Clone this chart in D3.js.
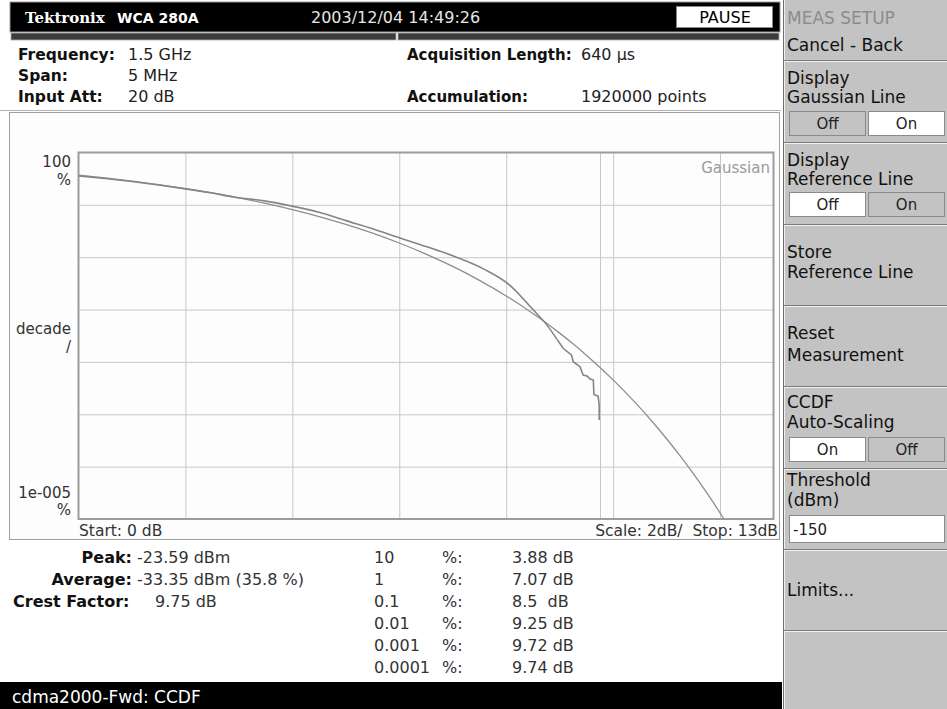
<!DOCTYPE html>
<html><head><meta charset="utf-8">
<script src="https://cdn.jsdelivr.net/npm/d3@7"></script>
<style>
html,body{margin:0;padding:0;background:#fff;}
svg{display:block;font-family:"DejaVu Sans",sans-serif;}
text{white-space:pre;}
</style></head><body>
<svg id="c" width="947" height="709"></svg>
<script>
// ---------- data ----------
const gaussDb  = [0, 0.5, 1, 1.5, 2, 2.5, 3, 3.5, 4, 4.5, 5, 5.5, 6, 6.5, 7, 7.5, 8, 8.5, 8.75, 9, 9.25, 9.5, 9.75, 10, 10.25, 10.5, 10.75, 11, 11.25, 11.5, 11.75, 12, 12.07];
const gaussPct = [36.79, 32.56, 28.40, 24.35, 20.50, 16.89, 13.60, 10.66, 8.11, 5.97, 4.23, 2.878, 1.867, 1.148, 0.666, 0.361, 0.1819, 0.0842, 0.0554, 0.0355, 0.0222, 0.01347, 0.00794, 0.00454, 0.00251, 0.00134, 0.000689, 0.000341, 0.000162, 0.0000734, 0.0000318, 0.0000131, 0.0000101];
const measDb  = [0, 0.5, 1, 1.5, 2, 2.5, 2.9, 3.5, 3.88, 4.5, 5, 5.5, 6, 6.5, 7.07, 7.6, 8.07, 8.5, 8.76, 8.95, 9.07, 9.22, 9.255, 9.38, 9.44, 9.51, 9.57, 9.63, 9.64, 9.72, 9.74, 9.74];
const measPct = [35.8, 31.9, 27.9, 24.0, 20.2, 16.8, 14.1, 11.8, 10.0, 7.2, 5.0, 3.5, 2.35, 1.6, 1.0, 0.58, 0.29, 0.10, 0.051, 0.027, 0.018, 0.0136, 0.0101, 0.0081, 0.0056, 0.0054, 0.0047, 0.0045, 0.0024, 0.0022, 0.0015, 0.00078];
const xGridDb = [2, 4, 6, 8, 10, 12];
const yGridPct = [10, 1, 0.1, 0.01, 0.001, 0.0001];
const crestDb = 9.75;

const setupLabels = ["Frequency:", "Span:", "Input Att:"];
const setupValues = ["1.5 GHz", "5 MHz", "20 dB"];
const acqLabels = ["Acquisition Length:", "Accumulation:"];
const acqValues = ["640 \u00b5s", "1920000 points"];
const statLabels = ["Peak:", "Average:", "Crest Factor:"];
const statValues = ["-23.59 dBm", "-33.35 dBm (35.8 %)", "9.75 dB"];
const ccdfLevels = ["10", "1", "0.1", "0.01", "0.001", "0.0001"];
const ccdfValues = ["3.88 dB", "7.07 dB", "8.5  dB", "9.25 dB", "9.72 dB", "9.74 dB"];
const menuTitle = "MEAS SETUP";
const menuLabels = [["Cancel - Back"], ["Display", "Gaussian Line"], ["Display", "Reference Line"], ["Store", "Reference Line"], ["Reset", "Measurement"], ["CCDF", "Auto-Scaling"], ["Threshold", "(dBm)"], ["Limits..."]];
const menuToggles = [null, ["Off", "On", 1], ["Off", "On", 0], null, null, ["On", "Off", 0], null, null];
const thresholdValue = "-150";

// ---------- drawing ----------
const svg = d3.select("#c");
svg.append("rect").attr("width", 947).attr("height", 709).attr("fill", "#fff");

// top bar
svg.append("rect").attr("x", 10).attr("y", 2).attr("width", 770).attr("height", 30).attr("fill", "#000").attr("stroke", "#999").attr("stroke-width", 1);
svg.append("text").attr("x", 25).attr("y", 23).attr("fill", "#fff").attr("font-weight", "bold").attr("font-size", 15).attr("font-family", "DejaVu Serif, serif").text("Tektronix");
svg.append("text").attr("x", 117).attr("y", 23).attr("fill", "#fff").attr("font-weight", "bold").attr("font-size", 14).text("WCA 280A");
svg.append("text").attr("x", 311).attr("y", 23).attr("fill", "#e6e6e6").attr("font-size", 16).text("2003/12/04 14:49:26");
svg.append("rect").attr("x", 676.5).attr("y", 6.5).attr("width", 96).attr("height", 21).attr("fill", "#fff").attr("stroke", "#888");
svg.append("text").attr("x", 725).attr("y", 23).attr("text-anchor", "middle").attr("fill", "#000").attr("font-size", 16).text("PAUSE");
// status strip
svg.append("rect").attr("x", 11).attr("y", 33).attr("width", 385).attr("height", 7).attr("fill", "#3c3c3c").attr("stroke", "#aaa").attr("stroke-width", 0.8);
svg.append("rect").attr("x", 398).attr("y", 33).attr("width", 381).attr("height", 7).attr("fill", "#3c3c3c").attr("stroke", "#aaa").attr("stroke-width", 0.8);

// setup info
const infoRowsY = [60, 81, 102];
setupLabels.forEach((t, i) => {
  svg.append("text").attr("x", 18).attr("y", infoRowsY[i]).attr("font-weight", "bold").attr("font-size", 15.5).attr("fill", "#111").text(t);
  svg.append("text").attr("x", 128).attr("y", infoRowsY[i]).attr("font-size", 16).attr("fill", "#222").text(setupValues[i]);
});
[0, 2].forEach((r, i) => {
  svg.append("text").attr("x", 407).attr("y", infoRowsY[r]).attr("font-weight", "bold").attr("font-size", 15).attr("fill", "#111").text(acqLabels[i]);
  svg.append("text").attr("x", 581).attr("y", infoRowsY[r]).attr("font-size", 16).attr("fill", "#222").text(acqValues[i]);
});

// plot panel
svg.append("line").attr("x1", 0).attr("x2", 781).attr("y1", 110.5).attr("y2", 110.5).attr("stroke", "#b4b4b4");
svg.append("rect").attr("x", 9.5).attr("y", 112.5).attr("width", 770).attr("height", 427).attr("fill", "#fdfdfd").attr("stroke", "#a0a0a0");

const L = 78.5, R = 773.5, T = 152.5, B = 519;
const x = d3.scaleLinear().domain([0, 13]).range([L, R]);
const y = d3.scaleLog().domain([1e-5, 100]).range([B, T]);

const grid = svg.append("g");
grid.append("g").attr("transform", `translate(0,${B})`)
  .call(d3.axisBottom(x).tickValues(xGridDb).tickSize(-(B - T)).tickFormat(""))
  .call(g => g.select(".domain").remove())
  .call(g => g.selectAll("line").attr("stroke", "#c8c8c8"));
grid.append("g").attr("transform", `translate(${L},0)`)
  .call(d3.axisLeft(y).tickValues(yGridPct).tickSize(-(R - L)).tickFormat(""))
  .call(g => g.select(".domain").remove())
  .call(g => g.selectAll("line").attr("stroke", "#c8c8c8"));
svg.append("line").attr("x1", Math.round(x(crestDb)) + 0.5).attr("x2", Math.round(x(crestDb)) + 0.5).attr("y1", T).attr("y2", B).attr("stroke", "#c8c8c8");
svg.append("rect").attr("x", L).attr("y", T).attr("width", R - L).attr("height", B - T).attr("fill", "none").attr("stroke", "#9c9c9c").attr("stroke-width", 2);

svg.append("clipPath").attr("id", "clip").append("rect").attr("x", L).attr("y", T).attr("width", R - L).attr("height", B - T);
const smooth = d3.line().x(d => x(d[0])).y(d => y(d[1])).curve(d3.curveMonotoneX);
const straight = d3.line().x(d => x(d[0])).y(d => y(d[1]));
svg.append("path").attr("d", smooth(d3.zip(gaussDb, gaussPct))).attr("fill", "none").attr("stroke", "#8e8e8e").attr("stroke-width", 1.3).attr("clip-path", "url(#clip)");
const measPts = d3.zip(measDb, measPct);
const split = measDb.indexOf(8.95);
svg.append("path").attr("d", smooth(measPts.slice(0, split + 1))).attr("fill", "none").attr("stroke", "#858585").attr("stroke-width", 1.6).attr("clip-path", "url(#clip)");
svg.append("path").attr("d", straight(measPts.slice(split))).attr("fill", "none").attr("stroke", "#858585").attr("stroke-width", 1.6).attr("clip-path", "url(#clip)");

// axis labels
const lab = (t, xx, yy, anchor, col, fs) => svg.append("text").attr("x", xx).attr("y", yy).attr("text-anchor", anchor || "start").attr("font-size", fs || 15).attr("fill", col || "#333").text(t);
lab("100", 71, 167, "end"); lab("%", 71, 185, "end");
lab("decade", 71, 334, "end"); lab("/", 71, 352, "end");
lab("1e-005", 71, 498, "end"); lab("%", 71, 515, "end");
lab("Start: 0 dB", 79, 536, "start", "#333", 15.5);
lab("Scale: 2dB/  Stop: 13dB", 778, 536, "end", "#333", 15.5);
lab("Gaussian", 770, 173, "end", "#9a9a9a");

// stats
const statY = [563, 585, 607];
statLabels.forEach((t, i) => {
  const isCrest = i === 2;
  svg.append("text").attr("x", isCrest ? 13 : 132).attr("y", statY[i]).attr("text-anchor", isCrest ? "start" : "end").attr("font-weight", "bold").attr("font-size", 16).attr("fill", "#111").text(t);
  svg.append("text").attr("x", isCrest ? 155 : 137).attr("y", statY[i]).attr("font-size", 16).attr("fill", "#333").text(statValues[i]);
});
ccdfLevels.forEach((t, i) => {
  const yy = 563 + i * 22;
  svg.append("text").attr("x", 374).attr("y", yy).attr("font-size", 16).attr("fill", "#333").text(t);
  svg.append("text").attr("x", 442).attr("y", yy).attr("font-size", 16).attr("fill", "#333").text("%:");
  svg.append("text").attr("x", 512).attr("y", yy).attr("font-size", 16).attr("fill", "#333").text(ccdfValues[i]);
});

// bottom bar
svg.append("rect").attr("x", 0).attr("y", 682).attr("width", 782).attr("height", 27).attr("fill", "#000");
svg.append("text").attr("x", 12).attr("y", 703).attr("font-size", 17).attr("fill", "#fff").text("cdma2000-Fwd: CCDF");

// right menu
const M0 = 783, MW = 164;
svg.append("rect").attr("x", M0).attr("y", 0).attr("width", MW).attr("height", 709).attr("fill", "#c3c3c3");
svg.append("line").attr("x1", M0 + 0.5).attr("x2", M0 + 0.5).attr("y1", 0).attr("y2", 709).attr("stroke", "#6e6e6e");
svg.append("line").attr("x1", M0 + 1.5).attr("x2", M0 + 1.5).attr("y1", 0).attr("y2", 709).attr("stroke", "#efefef");
svg.append("text").attr("x", 787).attr("y", 24).attr("font-size", 17).attr("fill", "#8c8c8c").text(menuTitle);

const secTextY = [[51], [84, 103], [166, 185], [258, 278], [339, 361], [408, 428], [486, 506], [596]];
const secSepY = [60, 142, 224, 305, 386, 468, 549, 630];
const toggleY = [null, 111, 192, null, null, 437, null, null];
menuLabels.forEach((lines, i) => {
  lines.forEach((t, j) => svg.append("text").attr("x", 787).attr("y", secTextY[i][j]).attr("font-size", 17).attr("fill", "#111").text(t));
  svg.append("line").attr("x1", M0 + 1).attr("x2", 947).attr("y1", secSepY[i] + 0.5).attr("y2", secSepY[i] + 0.5).attr("stroke", "#7a7a7a");
  svg.append("line").attr("x1", M0 + 1).attr("x2", 947).attr("y1", secSepY[i] + 1.5).attr("y2", secSepY[i] + 1.5).attr("stroke", "#f0f0f0");
  const tg = menuToggles[i];
  if (tg) {
    [0, 1].forEach(k => {
      const bx = k === 0 ? 789.5 : 868.5;
      const sel = tg[2] === k;
      svg.append("rect").attr("x", bx).attr("y", toggleY[i] + 0.5).attr("width", 76).attr("height", 24).attr("fill", sel ? "#fff" : "#c3c3c3").attr("stroke", "#8a8a8a");
      svg.append("text").attr("x", bx + 38).attr("y", toggleY[i] + 18).attr("text-anchor", "middle").attr("font-size", 15).attr("fill", "#222").text(tg[k]);
    });
  }
});
svg.append("rect").attr("x", 789.5).attr("y", 515.5).attr("width", 155).attr("height", 27).attr("fill", "#fff").attr("stroke", "#8a8a8a");
svg.append("text").attr("x", 793).attr("y", 535).attr("font-size", 15).attr("fill", "#222").text(thresholdValue);
</script>
</body></html>
